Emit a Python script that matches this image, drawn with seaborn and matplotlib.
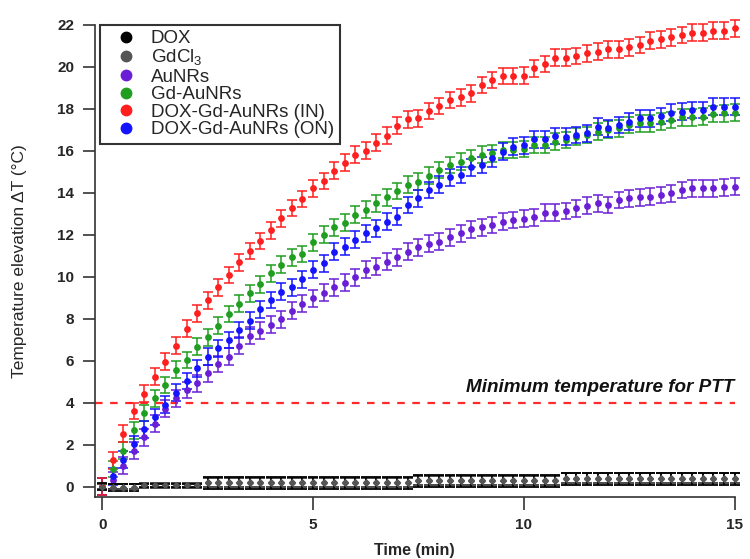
import numpy as np
import pandas as pd
import matplotlib
matplotlib.use("Agg")
import matplotlib.pyplot as plt
from matplotlib.lines import Line2D
import seaborn as sns

# Sampling times (min), one reading every 15 s
time_min = [0.0, 0.25, 0.5, 0.75, 1.0, 1.25, 1.5, 1.75, 2.0, 2.25,
            2.5, 2.75, 3.0, 3.25, 3.5, 3.75, 4.0, 4.25, 4.5, 4.75,
            5.0, 5.25, 5.5, 5.75, 6.0, 6.25, 6.5, 6.75, 7.0, 7.25,
            7.5, 7.75, 8.0, 8.25, 8.5, 8.75, 9.0, 9.25, 9.5, 9.75,
            10.0, 10.25, 10.5, 10.75, 11.0, 11.25, 11.5, 11.75, 12.0, 12.25,
            12.5, 12.75, 13.0, 13.25, 13.5, 13.75, 14.0, 14.25, 14.5, 14.75,
            15.0]

# Temperature elevation readings (degC)
dox = [0.0, -0.05, -0.05, -0.05, 0.05, 0.05, 0.05, 0.05, 0.05, 0.05,
       0.15, 0.15, 0.15, 0.15, 0.15, 0.15, 0.15, 0.15, 0.15, 0.15,
       0.15, 0.15, 0.15, 0.15, 0.15, 0.15, 0.15, 0.15, 0.15, 0.15,
       0.25, 0.25, 0.25, 0.25, 0.25, 0.25, 0.25, 0.25, 0.25, 0.25,
       0.25, 0.25, 0.25, 0.25, 0.35, 0.35, 0.35, 0.35, 0.35, 0.35,
       0.35, 0.35, 0.35, 0.35, 0.35, 0.35, 0.35, 0.35, 0.35, 0.35,
       0.35]
dox_err = [0.15, 0.15, 0.15, 0.15, 0.05, 0.05, 0.05, 0.05, 0.05, 0.05,
           0.28, 0.28, 0.28, 0.28, 0.28, 0.28, 0.28, 0.28, 0.28, 0.28,
           0.28, 0.28, 0.28, 0.28, 0.28, 0.28, 0.28, 0.28, 0.28, 0.28,
           0.28, 0.28, 0.28, 0.28, 0.28, 0.28, 0.28, 0.28, 0.28, 0.28,
           0.28, 0.28, 0.28, 0.28, 0.28, 0.28, 0.28, 0.28, 0.28, 0.28,
           0.28, 0.28, 0.28, 0.28, 0.28, 0.28, 0.28, 0.28, 0.28, 0.28,
           0.28]
gdcl3 = [0.0, 0.0, 0.0, 0.0, 0.05, 0.05, 0.05, 0.05, 0.05, 0.05,
         0.2, 0.2, 0.2, 0.2, 0.2, 0.2, 0.2, 0.2, 0.2, 0.2,
         0.2, 0.2, 0.2, 0.2, 0.2, 0.2, 0.2, 0.2, 0.2, 0.2,
         0.3, 0.3, 0.3, 0.3, 0.3, 0.3, 0.3, 0.3, 0.3, 0.3,
         0.3, 0.3, 0.3, 0.3, 0.4, 0.4, 0.4, 0.4, 0.4, 0.4,
         0.4, 0.4, 0.4, 0.4, 0.4, 0.4, 0.4, 0.4, 0.4, 0.4,
         0.4]
gdcl3_err = [0.1, 0.1, 0.1, 0.1, 0.1, 0.1, 0.1, 0.1, 0.1, 0.1,
             0.22, 0.22, 0.22, 0.22, 0.22, 0.22, 0.22, 0.22, 0.22, 0.22,
             0.22, 0.22, 0.22, 0.22, 0.22, 0.22, 0.22, 0.22, 0.22, 0.22,
             0.22, 0.22, 0.22, 0.22, 0.22, 0.22, 0.22, 0.22, 0.22, 0.22,
             0.22, 0.22, 0.22, 0.22, 0.22, 0.22, 0.22, 0.22, 0.22, 0.22,
             0.22, 0.22, 0.22, 0.22, 0.22, 0.22, 0.22, 0.22, 0.22, 0.22,
             0.22]
aunrs = [0.0, 0.30, 1.00, 1.70, 2.35, 3.00, 3.70, 4.20, 4.60, 4.92,
         5.40, 5.84, 6.19, 6.70, 7.18, 7.43, 7.70, 7.97, 8.38, 8.70,
         8.97, 9.24, 9.49, 9.71, 9.97, 10.32, 10.48, 10.71, 10.92, 11.19,
         11.40, 11.56, 11.67, 11.88, 12.07, 12.26, 12.35, 12.46, 12.62, 12.70,
         12.76, 12.83, 13.05, 13.05, 13.13, 13.26, 13.37, 13.50, 13.41, 13.65,
         13.73, 13.78, 13.81, 13.89, 13.97, 14.13, 14.21, 14.21, 14.21, 14.26,
         14.29]
gd_aunrs = [0.0, 0.83, 1.70, 2.68, 3.50, 4.21, 4.84, 5.56, 6.03, 6.67,
            7.11, 7.67, 8.22, 8.70, 9.21, 9.64, 10.16, 10.56, 10.92, 11.08,
            11.63, 11.99, 12.35, 12.57, 12.94, 13.18, 13.50, 13.78, 14.08, 14.37,
            14.52, 14.80, 15.08, 15.32, 15.48, 15.64, 15.80, 15.88, 16.03, 16.03,
            16.08, 16.27, 16.27, 16.43, 16.51, 16.67, 16.75, 16.90, 16.99, 17.07,
            17.22, 17.30, 17.30, 17.38, 17.46, 17.59, 17.59, 17.62, 17.75, 17.78,
            17.81]
dox_gd_in = [0.0, 1.25, 2.51, 3.60, 4.42, 5.24, 5.94, 6.71, 7.51, 8.26,
             8.87, 9.49, 10.08, 10.69, 11.22, 11.70, 12.20, 12.78, 13.27, 13.70,
             14.20, 14.55, 15.05, 15.43, 15.80, 16.00, 16.38, 16.71, 17.18, 17.49,
             17.54, 17.89, 18.13, 18.41, 18.54, 18.73, 19.13, 19.37, 19.56, 19.56,
             19.58, 19.92, 20.13, 20.43, 20.43, 20.51, 20.64, 20.72, 20.83, 20.83,
             20.92, 21.03, 21.24, 21.30, 21.40, 21.51, 21.62, 21.62, 21.71, 21.71,
             21.83]
dox_gd_on = [0.0, 0.48, 1.27, 2.03, 2.73, 3.31, 3.89, 4.46, 5.03, 5.64,
             6.19, 6.59, 6.98, 7.46, 7.90, 8.45, 8.89, 9.29, 9.49, 9.87,
             10.32, 10.64, 11.19, 11.43, 11.75, 12.07, 12.30, 12.62, 12.86, 13.41,
             13.73, 14.13, 14.37, 14.73, 14.84, 15.21, 15.32, 15.64, 15.95, 16.19,
             16.25, 16.54, 16.54, 16.70, 16.67, 16.75, 16.83, 17.14, 17.07, 17.22,
             17.38, 17.54, 17.54, 17.65, 17.81, 17.86, 17.94, 17.94, 18.10, 18.10,
             18.10]
# error bars of the nanorod samples are about +/-0.4 degC throughout
nr_err = 0.4

ptt_threshold = 4
x_ticks = [0, 5, 10, 15]
y_ticks = [0, 2, 4, 6, 8, 10, 12, 14, 16, 18, 20, 22]

labels = ["DOX", "GdCl$_\\mathregular{3}$", "AuNRs", "Gd-AuNRs",
          "DOX-Gd-AuNRs (IN)", "DOX-Gd-AuNRs (ON)"]
colors = ["#000000", "#555555", "#6a1fd6", "#1f9e1f", "#ff1f1f", "#1414ff"]

sns.set_style("ticks")
plt.rcParams['font.family'] = ['Liberation Sans', 'DejaVu Sans']
plt.rcParams['mathtext.fontset'] = 'custom'
plt.rcParams['mathtext.rm'] = 'Liberation Sans'

fig = plt.figure(figsize=(7.5, 5.59), dpi=100)
ax = fig.add_axes([0.1267, 0.1109, 0.8527, 0.8449])

# reference line for photothermal therapy
ax.axhline(ptt_threshold, color="#ff2a2a", lw=1.6, dashes=(3.4, 3.4), zorder=1)
ax.text(15, ptt_threshold + 0.3, "Minimum temperature for PTT", ha="right", va="bottom",
        fontsize=13.6, fontweight="bold", fontstyle="italic", color="#111111")

# colored samples first, then the two controls on top of the baseline
colored = [(aunrs, colors[2]), (gd_aunrs, colors[3]), (dox_gd_on, colors[5]), (dox_gd_in, colors[4])]
for vals, c in colored:
    eb = ax.errorbar(time_min, vals, yerr=nr_err, fmt="none", ecolor=c, elinewidth=1.1,
                     capsize=3.6, capthick=1.1, zorder=2)
    for art in eb.lines[1] + eb.lines[2]:
        art.set_clip_on(False)
    sns.scatterplot(x=time_min, y=vals, color=c, s=24, linewidth=0, ax=ax,
                    zorder=3, clip_on=False, legend=False)

controls = [(gdcl3, gdcl3_err, "#3a3a3a"), (dox, dox_err, colors[0])]
for vals, err, c in controls:
    eb = ax.errorbar(time_min, vals, yerr=err, fmt="none", ecolor=c, elinewidth=1.2,
                     capsize=3.6, capthick=1.3, zorder=4)
    for art in eb.lines[1] + eb.lines[2]:
        art.set_clip_on(False)
    sns.scatterplot(x=time_min, y=vals, color="#555555", marker="D", s=14, linewidth=0,
                    ax=ax, zorder=5, clip_on=False, legend=False)

ax.set_xlim(-0.17, 15.0)
ax.set_ylim(-0.5, 22)
ax.set_xticks(x_ticks)
ax.set_yticks(y_ticks)
ax.tick_params(direction="out", length=9, width=1.2, color="#333333", labelsize=11, pad=6)
for lbl in ax.get_xticklabels() + ax.get_yticklabels():
    lbl.set_fontweight("bold")
sns.despine(ax=ax)
for side in ["left", "bottom"]:
    ax.spines[side].set_linewidth(1.2)
    ax.spines[side].set_color("#333333")

ax.set_xlabel("Time (min)", fontsize=11.5, fontweight="bold", labelpad=8)
ax.set_ylabel("Temperature elevation \u0394T (\u00b0C)", fontsize=12.5, labelpad=22)

handles = [Line2D([], [], marker="o", linestyle="", color=c, markersize=7.5) for c in colors]
leg = ax.legend(handles, labels, loc="upper left", bbox_to_anchor=(0.008, 1.0),
                borderaxespad=0, fontsize=13.5, frameon=True, fancybox=False,
                handletextpad=0.2, labelspacing=0.02, borderpad=0.3, handlelength=2.2)
leg.get_frame().set_edgecolor("#333333")
leg.get_frame().set_linewidth(1.5)
leg.get_frame().set_alpha(1)

fig.savefig("out.png", dpi=100)
